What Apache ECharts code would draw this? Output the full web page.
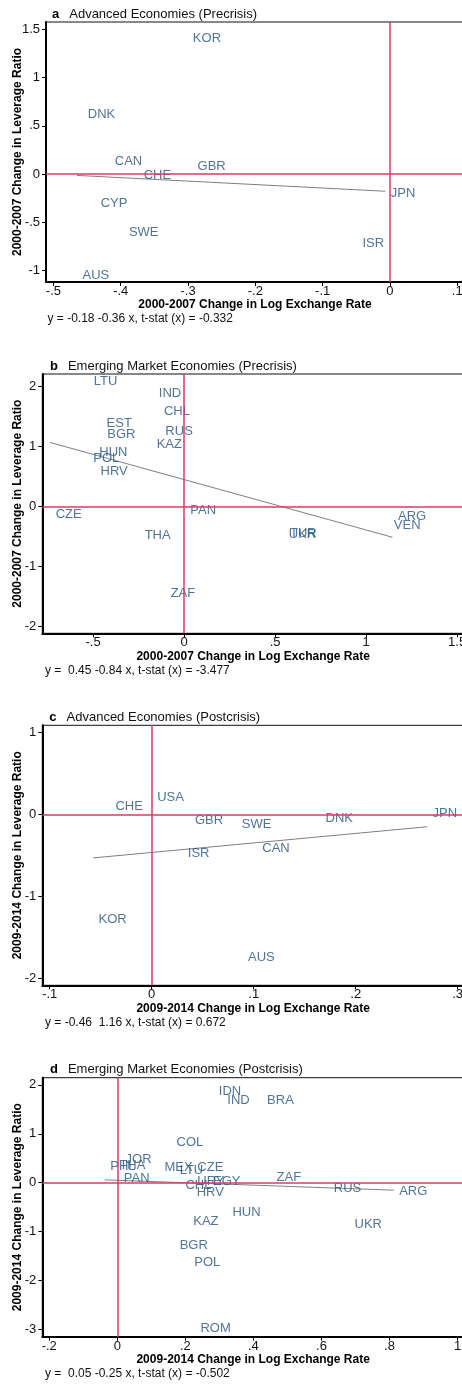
<!DOCTYPE html>
<html><head><meta charset="utf-8">
<script src="https://cdn.jsdelivr.net/npm/echarts@6/dist/echarts.min.js"></script>
<style>html,body{margin:0;padding:0;background:#fff}#c{width:462px;height:1384px}</style>
</head><body><div id="c"></div>
<script>
// ---- Panel a: Advanced Economies (Precrisis)
const aNames = ['KOR','DNK','CAN','GBR','CHE','JPN','CYP','SWE','ISR','AUS'];
const aX = [-0.301,-0.457,-0.417,-0.294,-0.374,-0.007,-0.438,-0.396,-0.049,-0.465];
const aY = [1.41,0.617,0.131,0.075,-0.017,-0.20,-0.307,-0.60,-0.714,-1.044];
const aFit = [[-0.465,-0.013],[-0.007,-0.177]];
const aXTicks = [-0.5,-0.4,-0.3,-0.2,-0.1,0,0.1];
const aXLabels = ['-.5','-.4','-.3','-.2','-.1','0','.1'];
const aYTicks = [-1,-0.5,0,0.5,1,1.5];
const aYLabels = ['-1','-.5','0','.5','1','1.5'];

// ---- Panel b: Emerging Market Economies (Precrisis)
const bNames = ['LTU','IND','CHL','EST','BGR','RUS','KAZ','HUN','POL','HRV','CZE','PAN','THA','TUR','UKR','ARG','VEN','ZAF'];
const bX = [-0.526,-0.169,-0.141,-0.456,-0.452,-0.133,-0.181,-0.496,-0.529,-0.489,-0.736,0.004,-0.247,0.552,0.545,1.145,1.122,-0.104];
const bY = [2.08,1.887,1.587,1.387,1.203,1.258,1.042,0.903,0.803,0.587,-0.125,-0.063,-0.475,-0.44,-0.46,-0.17,-0.313,-1.44];
const bFit = [[-0.736,1.068],[1.145,-0.512]];
const bXTicks = [-0.5,0,0.5,1,1.5];
const bXLabels = ['-.5','0','.5','1','1.5'];
const bYTicks = [-2,-1,0,1,2];
const bYLabels = ['-2','-1','0','1','2'];

// ---- Panel c: Advanced Economies (Postcrisis)
const cNames = ['CHE','USA','GBR','SWE','DNK','JPN','ISR','CAN','KOR','AUS'];
const cX = [-0.041,0.000,0.037,0.083,0.165,0.270,0.030,0.103,-0.0575,0.089];
const cY = [0.098,0.212,-0.065,-0.117,-0.044,0.017,-0.47,-0.41,-1.276,-1.739];
const cFit = [[-0.0575,-0.527],[0.270,-0.147]];
const cXTicks = [-0.1,0,0.1,0.2,0.3];
const cXLabels = ['-.1','0','.1','.2','.3'];
const cYTicks = [-2,-1,0,1];
const cYLabels = ['-2','-1','0','1'];

// ---- Panel d: Emerging Market Economies (Postcrisis)
const dNames = ['IDN','IND','BRA','COL','JOR','PHL','THA','PAN','MEX','LTU','CZE','CHL','URY','EGY','HRV','ZAF','RUS','ARG','HUN','KAZ','UKR','BGR','POL','ROM'];
const dX = [0.282,0.307,0.424,0.158,0.008,-0.037,-0.010,0.003,0.1225,0.167,0.219,0.184,0.219,0.265,0.217,0.452,0.620,0.812,0.322,0.207,0.681,0.167,0.210,0.228];
const dY = [1.869,1.677,1.677,0.818,0.485,0.327,0.35,0.09,0.307,0.245,0.307,-0.047,0.025,0.02,-0.19,0.10,-0.108,-0.184,-0.605,-0.79,-0.851,-1.274,-1.628,-2.971];
const dFit = [[-0.037,0.059],[0.812,-0.153]];
const dXTicks = [-0.2,0,0.2,0.4,0.6,0.8,1];
const dXLabels = ['-.2','0','.2','.4','.6','.8','1'];
const dYTicks = [-3,-2,-1,0,1,2];
const dYLabels = ['-3','-2','-1','0','1','2'];

const titles = ['Advanced Economies (Precrisis)','Emerging Market Economies (Precrisis)','Advanced Economies (Postcrisis)','Emerging Market Economies (Postcrisis)'];
const letters = ['a','b','c','d'];
const notes = ['y = -0.18 -0.36 x, t-stat (x) = -0.332','y =  0.45 -0.84 x, t-stat (x) = -3.477','y = -0.46  1.16 x, t-stat (x) = 0.672','y =  0.05 -0.25 x, t-stat (x) = -0.502'];
const xNames = ['2000-2007 Change in Log Exchange Rate','2000-2007 Change in Log Exchange Rate','2009-2014 Change in Log Exchange Rate','2009-2014 Change in Log Exchange Rate'];
const yNames = ['2000-2007 Change in Leverage Ratio','2000-2007 Change in Leverage Ratio','2009-2014 Change in Leverage Ratio','2009-2014 Change in Leverage Ratio'];

// layout (pixels) and ranges
const FONT = "'Liberation Sans', Arial, sans-serif";
const NAVY = '#24507e';
const RED = '#d93b66';
const panels = [
  {names:aNames,x:aX,y:aY,fit:aFit,xt:aXTicks,xl:aXLabels,yt:aYTicks,yl:aYLabels,
   grid:{left:46,top:22,width:418,height:260},xr:[-0.511,0.110],yr:[-1.117,1.576],
   titleTop:5.5,titleLeft:52,noteTop:313,noteLeft:47.5,yGap:22},
  {names:bNames,x:bX,y:bY,fit:bFit,xt:bXTicks,xl:bXLabels,yt:bYTicks,yl:bYLabels,
   grid:{left:42.3,top:374,width:421.7,height:259.3},xr:[-0.779,1.538],yr:[-2.113,2.21],
   titleTop:357.5,titleLeft:50,noteTop:665,noteLeft:45,yGap:18.3},
  {names:cNames,x:cX,y:cY,fit:cFit,xt:cXTicks,xl:cXLabels,yt:cYTicks,yl:cYLabels,
   grid:{left:42.3,top:725.3,width:421.7,height:260},xr:[-0.1073,0.3062],yr:[-2.080,1.09],
   titleTop:708,titleLeft:49.3,noteTop:1017,noteLeft:45,yGap:18.3},
  {names:dNames,x:dX,y:dY,fit:dFit,xt:dXTicks,xl:dXLabels,yt:dYTicks,yl:dYLabels,
   grid:{left:42.3,top:1077.7,width:421.7,height:259},xr:[-0.2204,1.0188],yr:[-3.149,2.147],
   titleTop:1060,titleLeft:50,noteTop:1368,noteLeft:45,yGap:18.3}
];

function lookup(ticks, labels){
  return function(v){
    for (let i=0;i<ticks.length;i++){ if (Math.abs(ticks[i]-v)<1e-9) return labels[i]; }
    return '';
  };
}

const option = {backgroundColor:'#fff', animation:false, title:[], grid:[], xAxis:[], yAxis:[], series:[]};

panels.forEach((p,i)=>{
  option.grid.push(Object.assign({show:true, borderColor:'#111', borderWidth:1, backgroundColor:'#fff', containLabel:false, outerBoundsMode:'none'}, p.grid));
  option.title.push({
    text:'{b|'+letters[i]+'}  {t|'+titles[i]+'}', left:p.titleLeft, top:p.titleTop, padding:0,
    textStyle:{rich:{b:{fontFamily:FONT,fontSize:13,fontWeight:'bold',color:'#000',lineHeight:13},
                     t:{fontFamily:FONT,fontSize:13,fontWeight:'normal',color:'#111',lineHeight:13}}}
  });
  option.title.push({
    text:notes[i], left:p.noteLeft, top:p.noteTop, padding:0,
    textStyle:{fontFamily:FONT,fontSize:12,fontWeight:'normal',color:'#111',lineHeight:12}
  });
  option.xAxis.push({
    type:'value', gridIndex:i, min:p.xr[0], max:p.xr[1],
    name:xNames[i], nameLocation:'middle', nameGap:17, nameMoveOverlap:false,
    nameTextStyle:{fontFamily:FONT,fontSize:12,fontWeight:'bold',color:'#000'},
    axisLine:{onZero:false,lineStyle:{color:'#000',width:2}},
    axisTick:{show:true,length:4,lineStyle:{color:'#000',width:1},customValues:p.xt},
    axisLabel:{show:true,margin:3,fontFamily:FONT,fontSize:13,color:'#111',customValues:p.xt,formatter:lookup(p.xt,p.xl),hideOverlap:false},
    splitLine:{show:false}
  });
  option.yAxis.push({
    type:'value', gridIndex:i, min:p.yr[0], max:p.yr[1],
    name:yNames[i], nameLocation:'middle', nameGap:p.yGap, nameMoveOverlap:false,
    nameTextStyle:{fontFamily:FONT,fontSize:12,fontWeight:'bold',color:'#000'},
    axisLine:{onZero:false,lineStyle:{color:'#000',width:2}},
    axisTick:{show:true,length:4,lineStyle:{color:'#000',width:1},customValues:p.yt},
    axisLabel:{show:true,margin:6,fontFamily:FONT,fontSize:13,color:'#111',customValues:p.yt,formatter:lookup(p.yt,p.yl)},
    splitLine:{show:false}
  });
  // reference lines at zero
  option.series.push({
    type:'line', xAxisIndex:i, yAxisIndex:i, data:[], silent:true, z:2,
    markLine:{symbol:'none', silent:true, label:{show:false},
      lineStyle:{color:RED,width:1.5,type:'solid'},
      data:[{xAxis:0},{yAxis:0}]}
  });
  // fitted line
  option.series.push({
    type:'line', xAxisIndex:i, yAxisIndex:i, data:p.fit, symbol:'none', silent:true, z:3,
    lineStyle:{color:'#808080',width:1}
  });
  // country labels
  option.series.push({
    type:'scatter', xAxisIndex:i, yAxisIndex:i, z:4, symbolSize:1,
    itemStyle:{color:'rgba(0,0,0,0)'},
    data:p.names.map((n,k)=>({name:n,value:[p.x[k],p.y[k]]})),
    label:{show:true,position:'right',distance:5,formatter:'{b}',fontFamily:FONT,fontSize:13,color:NAVY},
    labelLayout:{hideOverlap:false}
  });
});

const chart = echarts.init(document.getElementById('c'), null, {renderer:'canvas'});
chart.setOption(option);
</script>
</body></html>
